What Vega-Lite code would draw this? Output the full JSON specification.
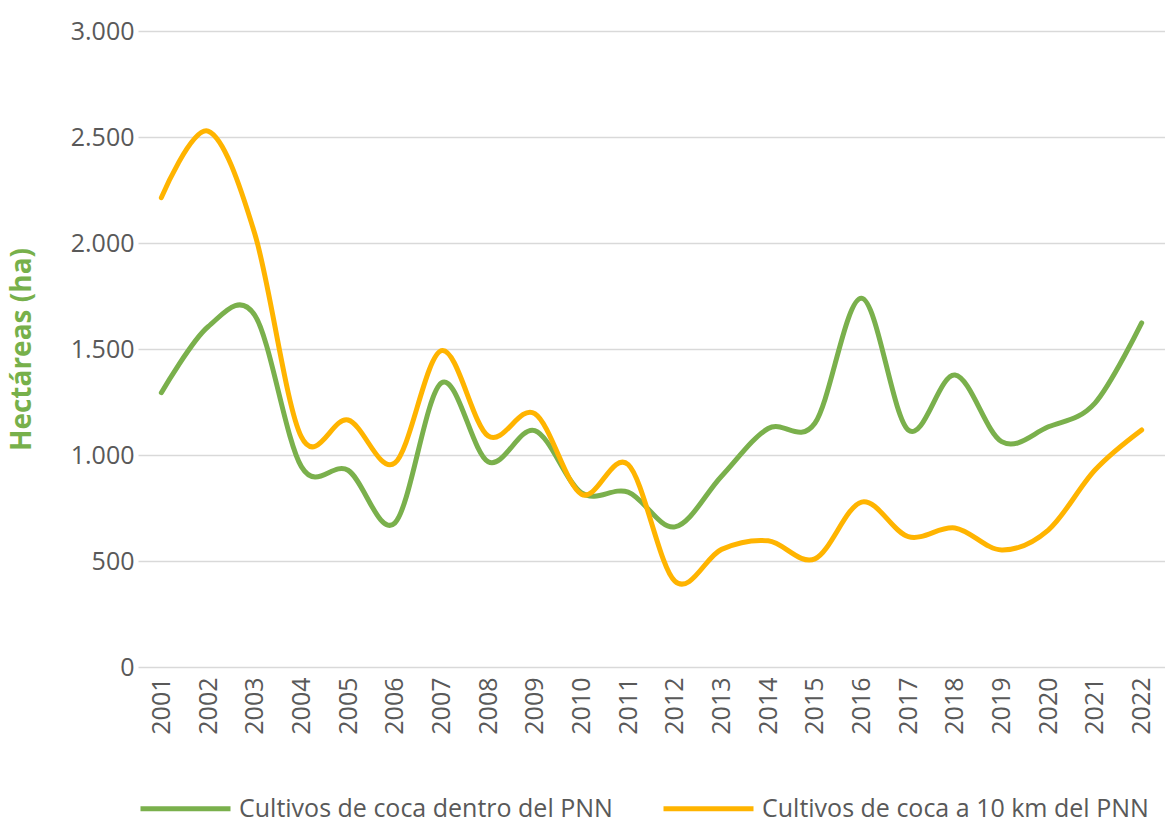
{
  "$schema": "https://vega.github.io/schema/vega-lite/v6.json",
  "width": 1027,
  "height": 636,
  "autosize": {"type": "none"},
  "padding": {"left": 138, "top": 31, "right": 0, "bottom": 156},
  "background": "white",
  "data": {
    "values": [
      {"year": "2001", "serie": "Cultivos de coca dentro del PNN", "ha": 1294},
      {"year": "2002", "serie": "Cultivos de coca dentro del PNN", "ha": 1605},
      {"year": "2003", "serie": "Cultivos de coca dentro del PNN", "ha": 1660},
      {"year": "2004", "serie": "Cultivos de coca dentro del PNN", "ha": 945},
      {"year": "2005", "serie": "Cultivos de coca dentro del PNN", "ha": 928},
      {"year": "2006", "serie": "Cultivos de coca dentro del PNN", "ha": 679},
      {"year": "2007", "serie": "Cultivos de coca dentro del PNN", "ha": 1340},
      {"year": "2008", "serie": "Cultivos de coca dentro del PNN", "ha": 968},
      {"year": "2009", "serie": "Cultivos de coca dentro del PNN", "ha": 1115},
      {"year": "2010", "serie": "Cultivos de coca dentro del PNN", "ha": 821},
      {"year": "2011", "serie": "Cultivos de coca dentro del PNN", "ha": 825},
      {"year": "2012", "serie": "Cultivos de coca dentro del PNN", "ha": 661},
      {"year": "2013", "serie": "Cultivos de coca dentro del PNN", "ha": 900},
      {"year": "2014", "serie": "Cultivos de coca dentro del PNN", "ha": 1125},
      {"year": "2015", "serie": "Cultivos de coca dentro del PNN", "ha": 1150},
      {"year": "2016", "serie": "Cultivos de coca dentro del PNN", "ha": 1739},
      {"year": "2017", "serie": "Cultivos de coca dentro del PNN", "ha": 1118},
      {"year": "2018", "serie": "Cultivos de coca dentro del PNN", "ha": 1377},
      {"year": "2019", "serie": "Cultivos de coca dentro del PNN", "ha": 1063},
      {"year": "2020", "serie": "Cultivos de coca dentro del PNN", "ha": 1133},
      {"year": "2021", "serie": "Cultivos de coca dentro del PNN", "ha": 1245},
      {"year": "2022", "serie": "Cultivos de coca dentro del PNN", "ha": 1623},
      {"year": "2001", "serie": "Cultivos de coca a 10 km del PNN", "ha": 2214},
      {"year": "2002", "serie": "Cultivos de coca a 10 km del PNN", "ha": 2528},
      {"year": "2003", "serie": "Cultivos de coca a 10 km del PNN", "ha": 2045},
      {"year": "2004", "serie": "Cultivos de coca a 10 km del PNN", "ha": 1085},
      {"year": "2005", "serie": "Cultivos de coca a 10 km del PNN", "ha": 1165},
      {"year": "2006", "serie": "Cultivos de coca a 10 km del PNN", "ha": 962},
      {"year": "2007", "serie": "Cultivos de coca a 10 km del PNN", "ha": 1492},
      {"year": "2008", "serie": "Cultivos de coca a 10 km del PNN", "ha": 1090},
      {"year": "2009", "serie": "Cultivos de coca a 10 km del PNN", "ha": 1195},
      {"year": "2010", "serie": "Cultivos de coca a 10 km del PNN", "ha": 815},
      {"year": "2011", "serie": "Cultivos de coca a 10 km del PNN", "ha": 955},
      {"year": "2012", "serie": "Cultivos de coca a 10 km del PNN", "ha": 405},
      {"year": "2013", "serie": "Cultivos de coca a 10 km del PNN", "ha": 555},
      {"year": "2014", "serie": "Cultivos de coca a 10 km del PNN", "ha": 595},
      {"year": "2015", "serie": "Cultivos de coca a 10 km del PNN", "ha": 510},
      {"year": "2016", "serie": "Cultivos de coca a 10 km del PNN", "ha": 778},
      {"year": "2017", "serie": "Cultivos de coca a 10 km del PNN", "ha": 615},
      {"year": "2018", "serie": "Cultivos de coca a 10 km del PNN", "ha": 656},
      {"year": "2019", "serie": "Cultivos de coca a 10 km del PNN", "ha": 552},
      {"year": "2020", "serie": "Cultivos de coca a 10 km del PNN", "ha": 646},
      {"year": "2021", "serie": "Cultivos de coca a 10 km del PNN", "ha": 929},
      {"year": "2022", "serie": "Cultivos de coca a 10 km del PNN", "ha": 1118}
    ]
  },
  "mark": {"type": "line", "interpolate": "cardinal", "strokeWidth": 5, "strokeCap": "round", "strokeJoin": "round"},
  "encoding": {
    "x": {
      "field": "year",
      "type": "ordinal",
      "scale": {"type": "point", "padding": 0.5},
      "axis": {
        "title": null,
        "labelAngle": -90,
        "labelAlign": "right",
        "labelBaseline": "middle",
        "labelFont": "Open Sans",
        "labelFontSize": 25,
        "labelColor": "#595959",
        "labelPadding": 10,
        "ticks": false,
        "domain": false,
        "grid": false
      }
    },
    "y": {
      "field": "ha",
      "type": "quantitative",
      "scale": {"domain": [0, 3000]},
      "axis": {
        "title": "Hectáreas (ha)",
        "titleFont": "Open Sans",
        "titleFontSize": 28,
        "titleFontWeight": "bold",
        "titleColor": "#77B04B",
        "titlePadding": 34,
        "values": [0, 500, 1000, 1500, 2000, 2500, 3000],
        "labelExpr": "replace(format(datum.value, ','), ',', '.')",
        "labelFont": "Open Sans",
        "labelFontSize": 25,
        "labelColor": "#595959",
        "labelPadding": 4,
        "ticks": false,
        "domain": false,
        "grid": true,
        "gridColor": "#D9D9D9",
        "gridWidth": 1.5
      }
    },
    "color": {
      "field": "serie",
      "type": "nominal",
      "scale": {
        "domain": ["Cultivos de coca dentro del PNN", "Cultivos de coca a 10 km del PNN"],
        "range": ["#7AB04C", "#FFB400"]
      },
      "legend": {
        "title": null,
        "orient": "bottom",
        "direction": "horizontal",
        "symbolType": "stroke",
        "symbolSize": 8100,
        "symbolStrokeWidth": 5,
        "labelFont": "Open Sans",
        "labelFontSize": 25,
        "labelColor": "#595959",
        "labelLimit": 0,
        "labelOffset": 6,
        "columnPadding": 40,
        "offset": 26
      }
    }
  },
  "config": {"view": {"stroke": null}}
}
